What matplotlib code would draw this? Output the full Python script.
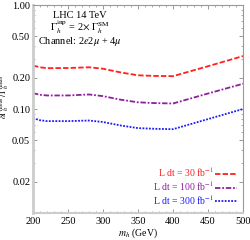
import matplotlib
matplotlib.use("Agg")
import matplotlib.pyplot as plt
from matplotlib.ticker import FixedLocator, NullFormatter, MultipleLocator, LogLocator

mh = [200, 210, 220, 250, 280, 300, 325, 350, 375, 400, 450, 500]
lum30 = [0.262, 0.252, 0.247, 0.248, 0.252, 0.244, 0.225, 0.211, 0.208, 0.207, 0.258, 0.323]
lum100 = [0.142, 0.137, 0.135, 0.135, 0.138, 0.133, 0.123, 0.116, 0.114, 0.113, 0.141, 0.175]
lum300 = [0.0818, 0.078, 0.0765, 0.0765, 0.0775, 0.075, 0.0695, 0.0655, 0.0645, 0.064, 0.080, 0.100]
labels = [r"L dt = 30 fb$^{-1}$", r"L dt = 100 fb$^{-1}$", r"L dt = 300 fb$^{-1}$"]
yticks = [0.02, 0.05, 0.10, 0.20, 0.50, 1.00]
xticks = [200, 250, 300, 350, 400, 450, 500]

plt.rcParams['font.family'] = ['Liberation Serif', 'DejaVu Serif']
plt.rcParams['mathtext.fontset'] = 'stix'

fig = plt.figure(figsize=(2.5, 2.4), dpi=100)
ax = fig.add_axes([0.132, 0.1125, 0.84, 0.8665])

colors = ['#ff2020', '#8e1e9e', '#1a1aff']
styles = [(0, (3, 1.2)), (0, (3, 1, 1, 1)), (0, (1, 0.8))]
series = [lum30, lum100, lum300]
lines = []
for s, c, ls in zip(series, colors, styles):
    l, = ax.plot(mh, s, color=c, ls=ls, lw=1.3)
    lines.append(l)

ax.set_yscale('log')
ax.set_ylim(0.01, 1.0)
ax.set_xlim(200, 500)
ax.yaxis.set_major_locator(FixedLocator(yticks))
ax.set_yticklabels([f"{v:.2f}" for v in yticks])
ax.yaxis.set_minor_locator(LogLocator(subs=[1, 2, 3, 4, 5, 6, 7, 8, 9], numticks=20))
ax.yaxis.set_minor_formatter(NullFormatter())
ax.xaxis.set_major_locator(FixedLocator(xticks))
ax.xaxis.set_minor_locator(MultipleLocator(10))
ax.tick_params(which='both', direction='in', top=True, right=True, labelsize=7.5, colors='#888888', labelcolor='black')
ax.tick_params(which='major', length=3, width=0.6, pad=2)
ax.tick_params(axis='x', which='major', pad=3)
ax.tick_params(which='minor', length=1.5, width=0.5)
for sp in ax.spines.values():
    sp.set_color('#999999')
    sp.set_linewidth(0.8)
ax.spines['left'].set_color('#cccccc')
ax.spines['left'].set_linewidth(2.0)
ax.spines['bottom'].set_color('#cccccc')
ax.spines['bottom'].set_linewidth(1.5)

ax.set_xlabel(r"$m_h$ (GeV)", fontsize=7)
ax.xaxis.set_label_coords(0.5, -0.066)
ax.set_ylabel(r"$\delta\Gamma_h^{\rm meas}\,/\,\Gamma_h^{\rm meas}$", fontsize=6)
ax.yaxis.set_label_coords(-0.098, 0.56)

ax.text(0.224, 0.952, "LHC 14 TeV", transform=ax.transAxes, ha='center', va='center', fontsize=7.5)
ax.text(0.224, 0.893, r"$\Gamma_h^{\rm inp}$ = 2$\times$ $\Gamma_h^{\rm SM}$", transform=ax.transAxes, ha='center', va='center', fontsize=7.5)
ax.text(0.224, 0.826, r"Channel: 2$e$2$\mu$ + 4$\mu$", transform=ax.transAxes, ha='center', va='center', fontsize=7.5)

leg = ax.legend(lines, labels, loc='lower right', bbox_to_anchor=(1.0, 0.0), frameon=False,
                fontsize=7, markerfirst=False, handlelength=2.2, handletextpad=0.1,
                labelspacing=0.0, borderaxespad=0.25)
for t, c in zip(leg.get_texts(), colors):
    t.set_color(c)

fig.savefig("out.png", dpi=100)
